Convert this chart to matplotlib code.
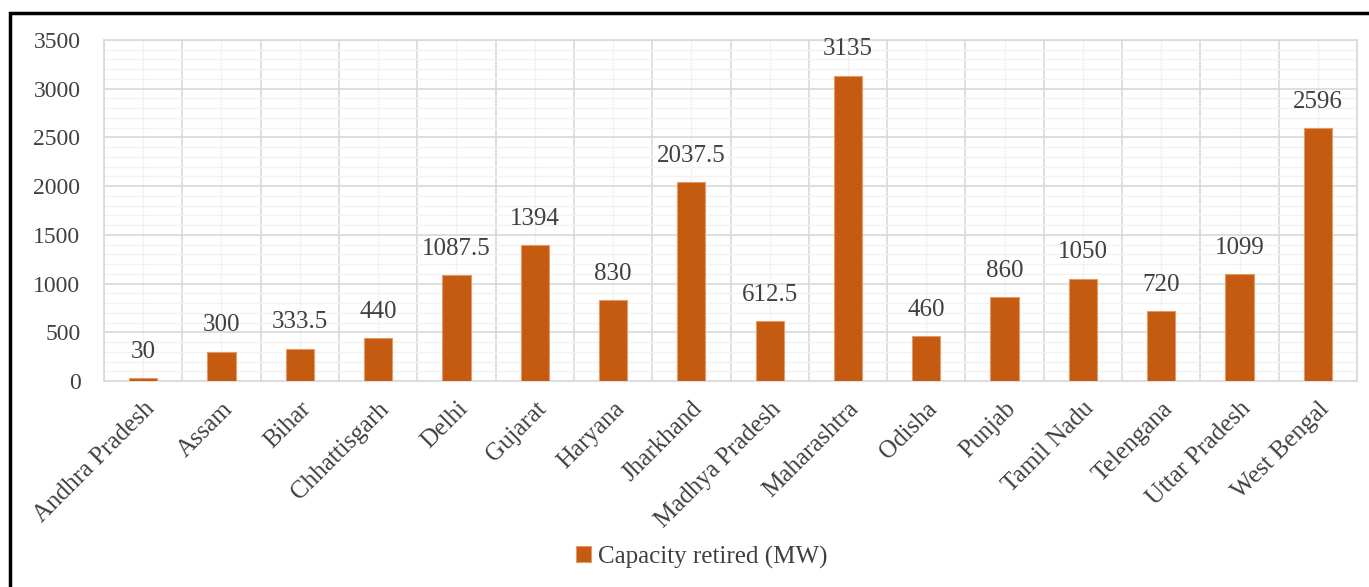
import matplotlib.pyplot as plt
from matplotlib.patches import Rectangle
from matplotlib.ticker import MultipleLocator
import numpy as np

states = ["Andhra Pradesh", "Assam", "Bihar", "Chhattisgarh", "Delhi", "Gujarat",
          "Haryana", "Jharkhand", "Madhya Pradesh", "Maharashtra", "Odisha",
          "Punjab", "Tamil Nadu", "Telengana", "Uttar Pradesh", "West Bengal"]
capacity = [30, 300, 333.5, 440, 1087.5, 1394, 830, 2037.5, 612.5, 3135, 460,
            860, 1050, 720, 1099, 2596]
labels = ["30", "300", "333.5", "440", "1087.5", "1394", "830", "2037.5", "612.5",
          "3135", "460", "860", "1050", "720", "1099", "2596"]

plt.rcParams["font.family"] = ["Liberation Serif", "DejaVu Serif"]
txt = "#404040"

fig = plt.figure(figsize=(13.69, 5.87), dpi=100)
W, H = 1369, 587
ax = fig.add_axes([104 / W, 1 - 381 / H, (1357 - 104) / W, (381 - 40) / H])

x = np.arange(len(states))
bars = ax.bar(x, capacity, width=0.36, color="#C55A11", edgecolor="#E59A6A",
              linewidth=0.8, zorder=3, label="Capacity retired (MW)")
for xi, v, s in zip(x, capacity, labels):
    ax.annotate(s, (xi, v), xytext=(0, 11), textcoords="offset points",
                ha="center", va="bottom", fontsize=18, color=txt)

ax.set_xlim(-0.5, len(states) - 0.5)
ax.set_ylim(0, 3500)
ax.yaxis.set_major_locator(MultipleLocator(500))
ax.yaxis.set_minor_locator(MultipleLocator(100))
ax.set_xticks(x)
ax.set_xticks(np.arange(-0.5, len(states)), minor=True)
ax.set_xticklabels(states, rotation=45, ha="right", rotation_mode="anchor",
                   fontsize=18, color=txt)
ax.tick_params(axis="y", labelsize=17, labelcolor=txt, length=0, pad=17)
ax.tick_params(axis="x", which="major", length=0, pad=12)
ax.tick_params(which="minor", length=0)

ax.grid(axis="y", which="major", color="#d9d9d9", lw=1.2, zorder=0)
ax.grid(axis="y", which="minor", color="#f2f2f2", lw=1.0, zorder=0)
ax.grid(axis="x", which="minor", color="#d9d9d9", lw=1.2, zorder=0)
ax.grid(axis="x", which="major", color="#f2f2f2", lw=1.0, zorder=0)
for sp in ax.spines.values():
    sp.set_color("#d9d9d9")
    sp.set_linewidth(1.2)
ax.set_axisbelow(True)

fig.legend(handles=[bars], loc="center", bbox_to_anchor=(702 / W, 1 - 557 / H),
           frameon=False, fontsize=18, handlelength=0.6, handleheight=0.6,
           handletextpad=0.3, labelcolor=txt)

fig.patches.append(Rectangle((10 / W, -0.1), 1.2, 1 - 13 / H + 0.1,
                             transform=fig.transFigure, fill=False,
                             edgecolor="black", linewidth=2.5))

fig.savefig("out.png", dpi=100)
